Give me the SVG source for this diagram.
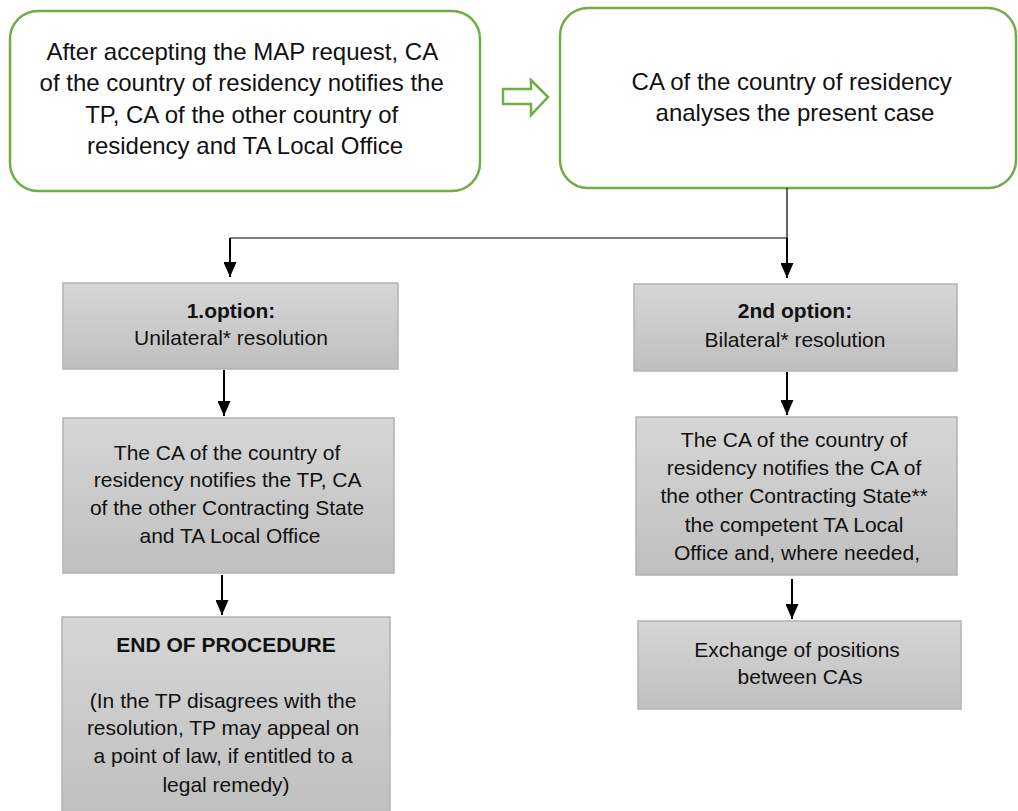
<svg xmlns="http://www.w3.org/2000/svg" width="1018" height="811" viewBox="0 0 1018 811">
  <defs>
    <linearGradient id="greyFill" x1="0" y1="0" x2="0" y2="1">
      <stop offset="0" stop-color="#d6d6d6"/>
      <stop offset="1" stop-color="#bfbfbf"/>
    </linearGradient>
    <marker id="arrowHead" markerUnits="userSpaceOnUse" markerWidth="16" markerHeight="13" refX="15" refY="6.5" orient="auto">
      <path d="M0,0 L15,6.5 L0,13 Z" fill="#000"/>
    </marker>
    <style>
      .start { fill: #fff; stroke: #70ad47; stroke-width: 2.5; }
      .step { fill: url(#greyFill); stroke: #b2b2b2; stroke-width: 1.5; }
      text { font-family: "Liberation Sans", Arial, sans-serif; fill: #111; text-anchor: middle; }
      .big { font-size: 24px; }
      .mid { font-size: 21px; }
      .bold { font-weight: bold; }
      .thin { fill: none; stroke: #000; stroke-width: 1.2; }
      .arrow { fill: none; stroke: #000; stroke-width: 2; marker-end: url(#arrowHead); }
    </style>
  </defs>

  <!-- first step: notification after accepting the request -->
  <g id="node-accept">
    <rect class="start" x="10" y="11" width="470" height="180" rx="28"/>
    <text class="big" x="245">
      <tspan x="245" y="60">After accepting the MAP request, CA</tspan>
      <tspan x="245" y="91">of the country of residency notifies the</tspan>
      <tspan x="245" y="123">TP, CA of the other country of</tspan>
      <tspan x="245" y="154">residency and TA Local Office</tspan>
    </text>
  </g>

  <!-- hollow arrow between the two top steps -->
  <g id="node-next">
    <path d="M503,89 L531,89 L531,80 L548,97 L531,115 L531,104 L503,104 Z" fill="#fff" stroke="#70ad47" stroke-width="2.5" stroke-linejoin="miter"/>
  </g>

  <!-- second step: analysis -->
  <g id="node-analyse">
    <rect class="start" x="560" y="8" width="456" height="180" rx="28"/>
    <text class="big">
      <tspan x="795" y="90">CA of the country of residency</tspan>
      <tspan x="795" y="121">analyses the present case</tspan>
    </text>
  </g>

  <!-- option 1 -->
  <g id="node-option1">
    <rect class="step" x="63" y="283" width="335" height="86"/>
    <text class="mid bold" x="231" y="318">1.option:</text>
    <text class="mid" x="231" y="345">Unilateral* resolution</text>
  </g>

  <!-- option 2 -->
  <g id="node-option2">
    <rect class="step" x="634" y="284" width="323" height="87"/>
    <text class="mid bold" x="795" y="318">2nd option:</text>
    <text class="mid" x="795" y="347">Bilateral* resolution</text>
  </g>

  <!-- unilateral notification -->
  <g id="node-notify1">
    <rect class="step" x="63" y="418" width="331" height="155"/>
    <text class="mid">
      <tspan x="230" y="460">The CA of the country of</tspan>
      <tspan x="230" y="487">residency notifies the TP, CA</tspan>
      <tspan x="230" y="515">of the other Contracting State</tspan>
      <tspan x="230" y="543">and TA Local Office</tspan>
    </text>
  </g>

  <!-- end of procedure -->
  <g id="node-end">
    <rect class="step" x="62" y="617" width="328" height="200"/>
    <text class="mid bold" x="226" y="652">END OF PROCEDURE</text>
    <text class="mid">
      <tspan x="226" y="708">(In the TP disagrees with the</tspan>
      <tspan x="226" y="735">resolution, TP may appeal on</tspan>
      <tspan x="226" y="763">a point of law, if entitled to a</tspan>
      <tspan x="226" y="792">legal remedy)</tspan>
    </text>
  </g>

  <!-- bilateral notification -->
  <g id="node-notify2">
    <rect class="step" x="636" y="417" width="321" height="158"/>
    <text class="mid">
      <tspan x="797" y="447">The CA of the country of</tspan>
      <tspan x="797" y="475">residency notifies the CA of</tspan>
      <tspan x="797" y="503">the other Contracting State**</tspan>
      <tspan x="797" y="532">the competent TA Local</tspan>
      <tspan x="797" y="560">Office and, where needed,</tspan>
    </text>
  </g>

  <!-- exchange of positions -->
  <g id="node-exchange">
    <rect class="step" x="638" y="621" width="323" height="88"/>
    <text class="mid">
      <tspan x="800" y="657">Exchange of positions</tspan>
      <tspan x="800" y="684">between CAs</tspan>
    </text>
  </g>

  <!-- connectors -->
  <g id="connectors">
    <path class="thin" d="M787,188 L787,238 M230,238 L787,238"/>
    <path class="arrow" d="M230,238 L230,277"/>
    <path class="arrow" d="M787,238 L787,278"/>
    <path class="arrow" d="M224,370 L224,416"/>
    <path class="arrow" d="M787,372 L787,415"/>
    <path class="arrow" d="M222,575 L222,615"/>
    <path class="arrow" d="M792,579 L792,619"/>
  </g>
</svg>
